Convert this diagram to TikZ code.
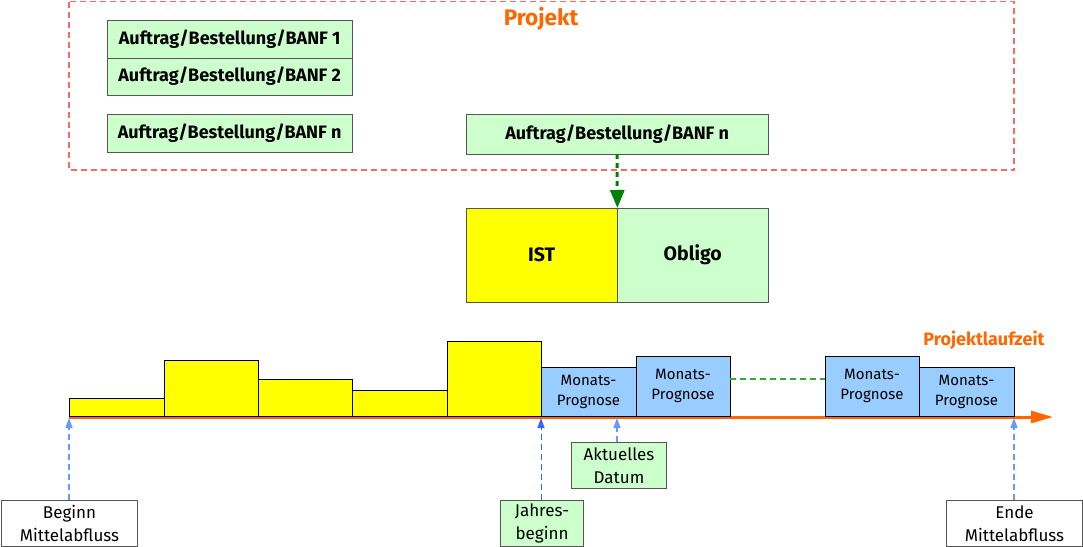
\documentclass[tikz,border=0pt]{standalone}
\usepackage{fontspec}
\setmainfont{Fira Sans}
\usetikzlibrary{arrows.meta}
\definecolor{lgreen}{HTML}{CCFFCC}
\definecolor{lblue}{HTML}{99CCFF}
\definecolor{yel}{HTML}{FFFF00}
\definecolor{org}{HTML}{FF6600}
\definecolor{pred}{HTML}{FF6666}
\definecolor{dgreen}{HTML}{008000}
\definecolor{dlgreen}{HTML}{33AA33}
\definecolor{arrblue}{HTML}{3366FF}
\definecolor{larrblue}{HTML}{6699FF}
\definecolor{bordgray}{HTML}{555555}
\tikzset{
  banf/.style={draw=bordgray, fill=lgreen, font=\bfseries\fontsize{18}{20}\selectfont, anchor=north west, inner sep=0pt},
  ybar/.style={draw=black, fill=yel},
  bbar/.style={draw=black, fill=lblue},
  lbl/.style={draw=bordgray, align=center, font=\fontsize{17}{22.5}\selectfont, inner sep=0pt, line width=1pt},
  mtxt/.style={align=center, font=\fontsize{15}{20}\selectfont},
  upar/.style={draw=larrblue, dash pattern=on 6pt off 4pt, -{Triangle[width=7pt,length=10pt]}, line width=1.3pt},
}
\begin{document}
\begin{tikzpicture}[x=1pt,y=-1pt]
\useasboundingbox (0,0) rectangle (1083,546);
% project box
\draw[pred, dash pattern=on 6pt off 4pt, line width=1.5pt] (69,1.5) rectangle (1014,170);
\node[text=org, font=\bfseries\fontsize{22.5}{24}\selectfont] (proj) at (541,19) {Projekt};
% banf boxes
\node[banf, minimum width=245pt, minimum height=37.5pt] (b1) at (107,20) {Auftrag/Bestellung/BANF 1};
\node[banf, minimum width=245pt, minimum height=37.5pt] (b2) at (107,57.5) {Auftrag/Bestellung/BANF 2};
\node[banf, minimum width=245pt, minimum height=38pt] (bn) at (107,114) {Auftrag/Bestellung/BANF n};
\node[banf, minimum width=302pt, minimum height=40pt] (bn2) at (466,114) {Auftrag/Bestellung/BANF n};
% IST / Obligo
\node[draw=bordgray, fill=yel, minimum width=151pt, minimum height=94pt, anchor=north west, inner sep=0pt, font=\bfseries\fontsize{19.5}{22}\selectfont] (ist) at (466,208) {IST};
\node[draw=bordgray, fill=lgreen, minimum width=151pt, minimum height=94pt, anchor=north west, inner sep=0pt, font=\bfseries\fontsize{19.5}{22}\selectfont] (obl) at (617,208) {Obligo};
\coordinate (arrs) at (617,154);
\draw[dgreen, line width=3pt, dash pattern=on 5pt off 4pt, -{Triangle[width=14pt,length=18pt]}] (arrs) -- (ist.north east);
% timeline
\coordinate (t0) at (69,417);
\coordinate (t1) at (1053,417);
\draw[org, line width=3pt, -{Triangle[width=12pt,length=22pt]}] (t0) -- (t1);
\node[text=org, font=\bfseries\fontsize{18}{20}\selectfont] (plz) at (984,340) {Projektlaufzeit};
% yellow bars
\draw[ybar] (69,416) rectangle (164,398);
\draw[ybar] (164,416) rectangle (258,360);
\draw[ybar] (258,416) rectangle (352,379);
\draw[ybar] (352,416) rectangle (447,390);
\draw[ybar] (447,416) rectangle (541,341);
% blue bars
\draw[bbar] (541,416) rectangle (636,367);
\draw[bbar] (636,416) rectangle (730,356);
\draw[bbar] (825,416) rectangle (919,356);
\draw[bbar] (919,416) rectangle (1014,367);
\node[mtxt] (m1) at (588.5,391.5) {Monats-\\Prognose};
\node[mtxt] (m2) at (683,385.5) {Monats-\\Prognose};
\node[mtxt] (m3) at (872,385.5) {Monats-\\Prognose};
\node[mtxt] (m4) at (966.5,391.5) {Monats-\\Prognose};
\coordinate (dl0) at (730,379);
\coordinate (dl1) at (825,379);
\draw[dlgreen, dash pattern=on 6pt off 4pt, line width=1.1pt] (dl0) -- (dl1);
% labels
\node[lbl, fill=white, minimum width=136pt, minimum height=46pt, anchor=north west] (beg) at (1,500) {Beginn\\Mittelabfluss};
\node[lbl, fill=lgreen, minimum width=83pt, minimum height=46pt, anchor=north west] (jb) at (500,500) {Jahres-\\beginn};
\node[lbl, fill=lgreen, minimum width=95pt, minimum height=46pt, anchor=north west] (ad) at (571,442) {Aktuelles\\Datum};
\node[lbl, fill=white, minimum width=136pt, minimum height=46pt, anchor=north west] (end) at (946,500) {Ende\\Mittelabfluss};
\coordinate (p1) at (69,418);
\coordinate (p2) at (541,418);
\coordinate (p3) at (617,418);
\coordinate (p4) at (1014,418);
\draw[upar] (beg.north -| p1) -- (p1);
\draw[upar, draw=arrblue, line width=1pt] (jb.north -| p2) -- (p2);
\draw[upar] (ad.north -| p3) -- (p3);
\draw[upar] (end.north -| p4) -- (p4);
\end{tikzpicture}
\end{document}
